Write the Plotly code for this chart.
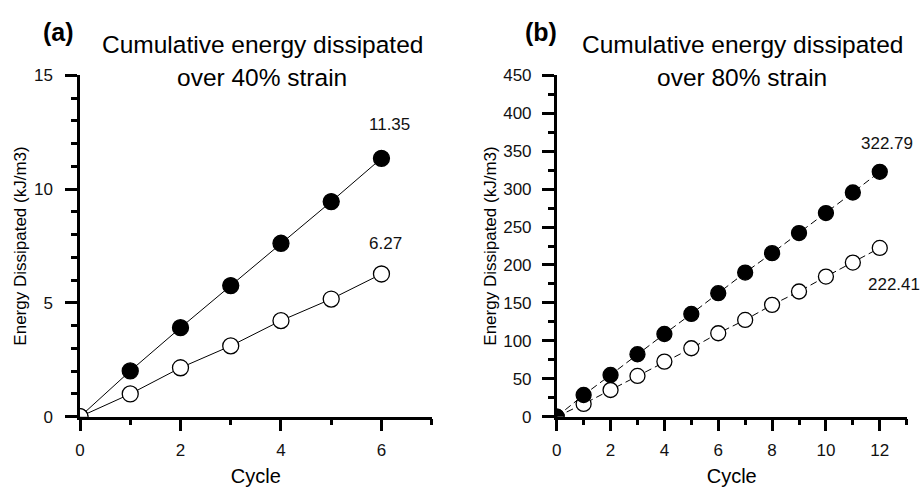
import plotly.graph_objects as go

# Panel (a): 40% strain
cycles_a = [0, 1, 2, 3, 4, 5, 6]
energy_a_filled = [0, 2.01, 3.91, 5.76, 7.62, 9.45, 11.35]
energy_a_open = [0, 1.00, 2.15, 3.11, 4.22, 5.17, 6.27]

# Panel (b): 80% strain
cycles_b = [0, 1, 2, 3, 4, 5, 6, 7, 8, 9, 10, 11, 12]
energy_b_filled = [0, 28.6, 55.0, 82.3, 109.0, 135.5, 162.8, 190.0, 215.6, 242.0, 268.4, 295.5, 322.79]
energy_b_open = [0, 16.8, 35.2, 53.7, 72.6, 90.2, 110.0, 127.6, 147.4, 165.0, 184.7, 203.2, 222.41]

FONT = "Liberation Sans, Arial, sans-serif"
W, H = 924, 487

fig = go.Figure()


def series(x, y, filled, xa, ya, dash, size):
    return go.Scatter(
        x=x, y=y, xaxis=xa, yaxis=ya, mode="lines+markers",
        line=dict(color="black", width=1, dash=dash),
        marker=dict(symbol="circle", size=size,
                    color="black" if filled else "white",
                    line=dict(color="black", width=1.3)),
        showlegend=False, hoverinfo="x+y",
    )


fig.add_trace(series(cycles_a, energy_a_filled, True, "x", "y", "solid", 16))
fig.add_trace(series(cycles_a, energy_a_open, False, "x", "y", "solid", 16))
fig.add_trace(series(cycles_b, energy_b_open, False, "x2", "y2", "7px,4px", 15))
fig.add_trace(series(cycles_b, energy_b_filled, True, "x2", "y2", "7px,4px", 15))


def px_x(p):
    return p / W


def px_y(p):
    return 1 - p / H


axis_common = dict(
    showline=True, linecolor="black", linewidth=2.5, mirror=False, automargin=False,
    showgrid=False, zeroline=False, ticks="outside", ticklen=12, tickwidth=2.5,
    tickcolor="black", tickfont=dict(family=FONT, size=17, color="#111"),
)
minor_common = dict(ticks="outside", ticklen=6, tickwidth=2.5, tickcolor="black")

x_dom_a = [px_x(80), px_x(431.7)]
x_dom_b = [px_x(556.7), px_x(906.7)]
y_dom = [px_y(416.7), px_y(75.3)]

fig.update_layout(
    width=W, height=H,
    margin=dict(l=0, r=0, t=0, b=0),
    paper_bgcolor="white", plot_bgcolor="white",
    font=dict(family=FONT, color="black"),
    xaxis=dict(axis_common, domain=x_dom_a, anchor="y", range=[0, 7],
               dtick=2, tick0=0, ticklabelstandoff=4,
               minor=dict(minor_common, dtick=1),
               title=dict(text="Cycle", font=dict(family=FONT, size=20), standoff=13)),
    yaxis=dict(axis_common, domain=y_dom, anchor="x", range=[0, 15],
               dtick=5, tick0=0, ticklabelstandoff=9,
               minor=dict(minor_common, dtick=1),
               title=dict(text="Energy Dissipated (kJ/m3)", font=dict(family=FONT, size=17), standoff=3)),
    xaxis2=dict(axis_common, domain=x_dom_b, anchor="y2", range=[0, 13],
                dtick=2, tick0=0, ticklabelstandoff=4,
                minor=dict(minor_common, dtick=1),
                title=dict(text="Cycle", font=dict(family=FONT, size=20), standoff=13)),
    yaxis2=dict(axis_common, domain=y_dom, anchor="x2", range=[0, 450],
                dtick=50, tick0=0, ticklabelstandoff=7,
                minor=dict(minor_common, dtick=25),
                title=dict(text="Energy Dissipated (kJ/m3)", font=dict(family=FONT, size=17), standoff=3)),
)

annotations = []

# Panel letters and titles
for letter, xc_letter, xc_title, strain in [("(a)", 58, 262, "40%"), ("(b)", 541, 742, "80%")]:
    annotations.append(dict(text=f"<b>{letter}</b>", x=px_x(xc_letter), y=px_y(32),
                            xref="paper", yref="paper", showarrow=False,
                            xanchor="center", yanchor="middle",
                            font=dict(family=FONT, size=25, color="black")))
    annotations.append(dict(text="Cumulative energy dissipated", x=px_x(xc_title), y=px_y(45),
                            xref="paper", yref="paper", showarrow=False,
                            xanchor="center", yanchor="middle",
                            font=dict(family=FONT, size=24.5, color="black")))
    annotations.append(dict(text=f"over {strain} strain", x=px_x(xc_title), y=px_y(77),
                            xref="paper", yref="paper", showarrow=False,
                            xanchor="center", yanchor="middle",
                            font=dict(family=FONT, size=24.5, color="black")))

# Final-value labels
labels = [
    (cycles_a[-1], energy_a_filled[-1], "x", "y", 8, -34),
    (cycles_a[-1], energy_a_open[-1], "x", "y", 4, -30),
    (cycles_b[-1], energy_b_filled[-1], "x2", "y2", 7, -28),
    (cycles_b[-1], energy_b_open[-1], "x2", "y2", 14, 37),
]
for x, y, xr, yr, dx, dy in labels:
    annotations.append(dict(text=f"{y:.2f}", x=x, y=y, xref=xr, yref=yr,
                            showarrow=False, xshift=dx, yshift=-dy,
                            xanchor="center", yanchor="middle",
                            font=dict(family=FONT, size=17, color="#111")))

fig.update_layout(annotations=annotations)

fig.write_html("out.html")
